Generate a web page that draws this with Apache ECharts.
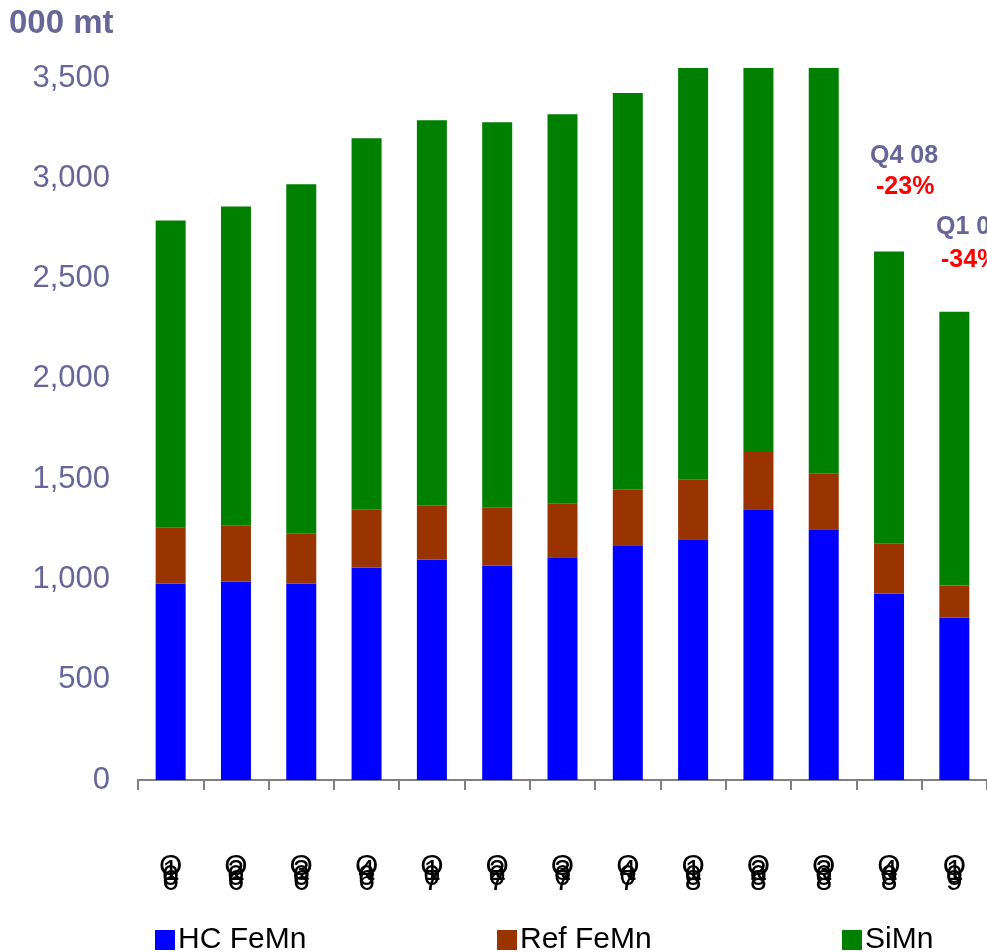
<!DOCTYPE html>
<html>
<head>
<meta charset="utf-8">
<title>FeMn / SiMn production</title>
<script src="https://cdn.jsdelivr.net/npm/echarts@6/dist/echarts.min.js"></script>
<style>
  html, body { margin: 0; padding: 0; background: #fff; }
  #main { width: 987px; height: 952px; }
</style>
</head>
<body>
<div id="main"></div>
<script>
// quarters and years for the x axis
var quarters = ['1', '2', '3', '4', '1', '2', '3', '4', '1', '2', '3', '4', '1'];
var years    = ['06', '06', '06', '06', '07', '07', '07', '07', '08', '08', '08', '08', '09'];

// 000 mt
var hcFeMn  = [980, 990, 980, 1060, 1100, 1070, 1110, 1170, 1200, 1350, 1250, 930, 810];
var refFeMn = [280, 280, 250, 290, 270, 290, 270, 280, 300, 290, 280, 250, 160];
var siMn    = [1530, 1590, 1740, 1850, 1920, 1920, 1940, 1975, 2050, 1910, 2020, 1455, 1365];

var yTicks = { min: 0, max: 3550, interval: 500 };

var labelColor = '#666699';
var categories = quarters.map(function (q, i) { return 'Q' + q + ' ' + years[i]; });

var chart = echarts.init(document.getElementById('main'));

function legendAt(name, x) {
  return {
    data: [name],
    left: x,
    top: 925,
    padding: 0,
    icon: 'rect',
    itemWidth: 20,
    itemHeight: 20,
    itemGap: 0,
    textStyle: { fontFamily: 'Liberation Sans', fontSize: 30, color: '#000', padding: [0, 0, 0, -2] },
    selectedMode: false
  };
}

var option = {
  animation: false,
  backgroundColor: '#fff',
  grid: { left: 138, right: -11, top: 68, bottom: 172, containLabel: false },
  legend: [
    legendAt('HC FeMn', 155),
    legendAt('Ref FeMn', 497),
    legendAt('SiMn', 842)
  ],
  xAxis: {
    type: 'category',
    data: categories,
    axisLine: { show: true, lineStyle: { color: '#808080', width: 2 } },
    axisTick: { show: true, length: 10, lineStyle: { color: '#808080', width: 2 } },
    axisLabel: {
      margin: 84,
      interval: 0,
      // the source draws each label as a stack of overlapping glyphs
      formatter: function (v) {
        var p = v.split(' ');
        return ['{g|Q}', '{g|' + p[0].slice(1) + '}', '{g|' + p[1].charAt(0) + '}', '{g|' + p[1].charAt(1) + '}'].join('\n');
      },
      rich: {
        g: { fontFamily: 'Liberation Sans', fontSize: 30, lineHeight: 5, color: '#000' }
      }
    }
  },
  yAxis: {
    type: 'value',
    min: yTicks.min,
    max: yTicks.max,
    interval: yTicks.interval,
    splitLine: { show: false },
    axisLine: { show: false },
    axisTick: { show: false },
    axisLabel: {
      showMaxLabel: false,
      margin: 28,
      color: labelColor,
      fontFamily: 'Liberation Sans',
      fontSize: 31,
      formatter: function (v) { return v.toLocaleString('en-US'); }
    }
  },
  series: [
    { name: 'HC FeMn', type: 'bar', stack: 'p', data: hcFeMn, barWidth: 30, itemStyle: { color: '#0000FF' } },
    { name: 'Ref FeMn', type: 'bar', stack: 'p', data: refFeMn, barWidth: 30, itemStyle: { color: '#993300' } },
    { name: 'SiMn', type: 'bar', stack: 'p', data: siMn, barWidth: 30, itemStyle: { color: '#008000' } }
  ],
  graphic: [
    { type: 'text', left: 9, top: 7, style: { text: '000 mt', fontFamily: 'Liberation Sans', fontWeight: 'bold', fontSize: 33, fill: labelColor } },
    { type: 'text', left: 870, top: 144, style: { text: 'Q4 08', fontFamily: 'Liberation Sans', fontWeight: 'bold', fontSize: 25, fill: labelColor } },
    { type: 'text', left: 876, top: 175, style: { text: '-23%', fontFamily: 'Liberation Sans', fontWeight: 'bold', fontSize: 25, fill: '#FF0000' } },
    { type: 'text', left: 936, top: 215, style: { text: 'Q1 09', fontFamily: 'Liberation Sans', fontWeight: 'bold', fontSize: 25, fill: labelColor } },
    { type: 'text', left: 941, top: 248, style: { text: '-34%', fontFamily: 'Liberation Sans', fontWeight: 'bold', fontSize: 25, fill: '#FF0000' } }
  ]
};

chart.setOption(option);
</script>
</body>
</html>
